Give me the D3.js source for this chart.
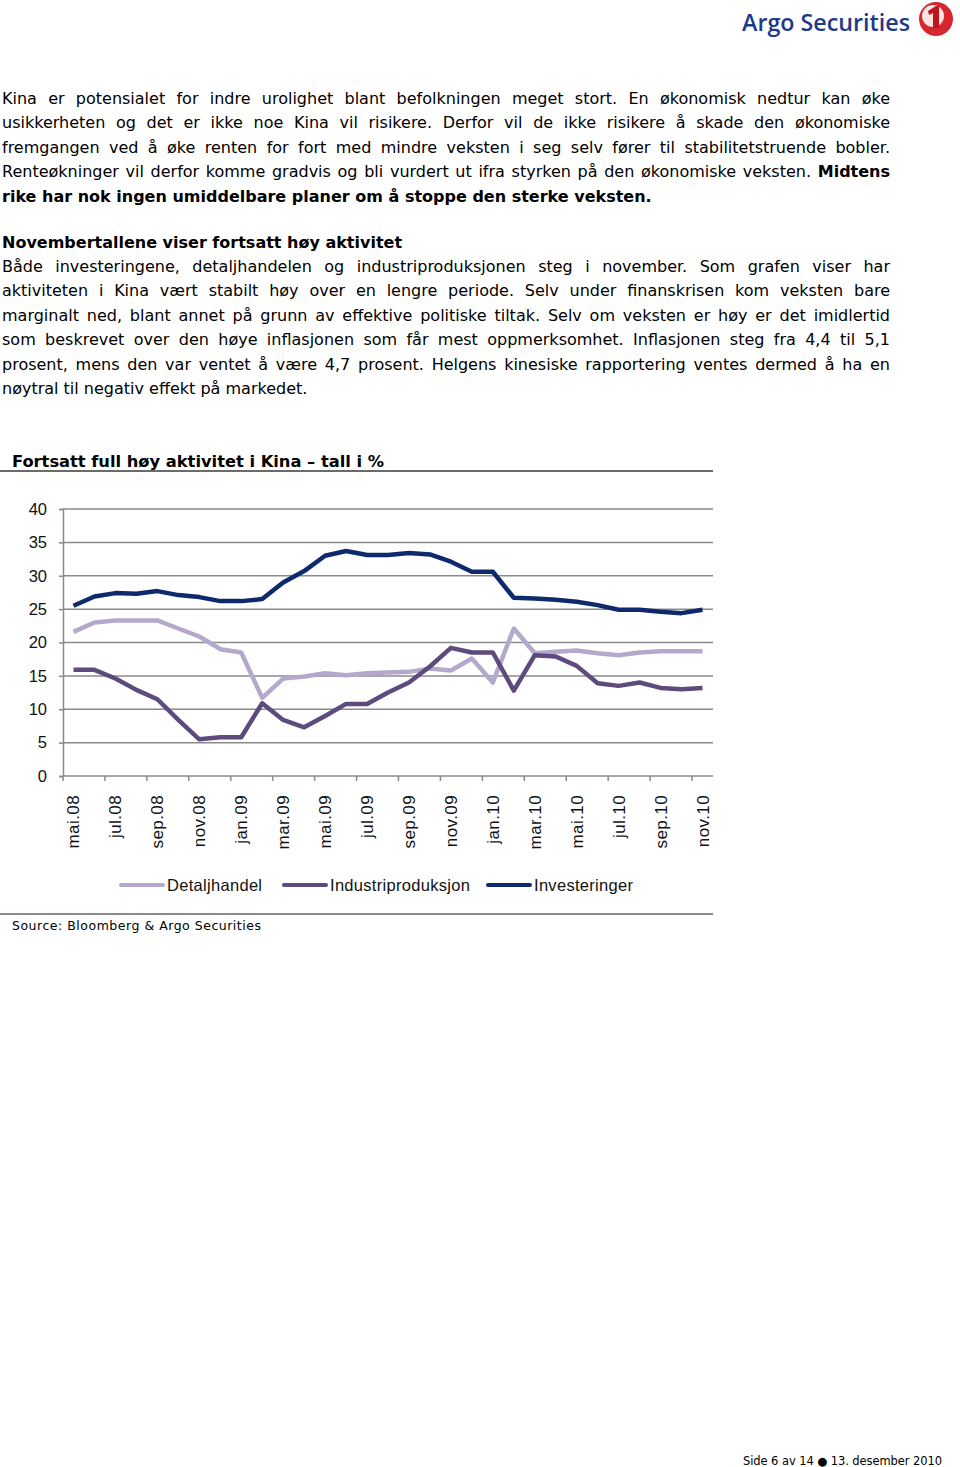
<!DOCTYPE html>
<html>
<head>
<meta charset="utf-8">
<script src="https://cdn.jsdelivr.net/npm/d3@7"></script>
<style>
  body { margin: 0; background: #fff; }
  svg { display: block; }
</style>
</head>
<body>
<div id="page"></div>
<script>
"use strict"

/* chart data */
let months = [
  "mai.08", "jun.08", "jul.08", "aug.08", "sep.08", "okt.08", "nov.08", "des.08",
  "jan.09", "feb.09", "mar.09", "apr.09", "mai.09", "jun.09", "jul.09", "aug.09",
  "sep.09", "okt.09", "nov.09", "des.09", "jan.10", "feb.10", "mar.10", "apr.10",
  "mai.10", "jun.10", "jul.10", "aug.10", "sep.10", "okt.10", "nov.10"
];
let detaljhandel = [21.6, 23.0, 23.3, 23.3, 23.3, 22.1, 20.9, 19.0, 18.5, 11.7, 14.6,
  14.9, 15.4, 15.1, 15.4, 15.5, 15.6, 16.1, 15.8, 17.6, 14.0, 22.1, 18.4, 18.6, 18.8,
  18.4, 18.1, 18.5, 18.7, 18.7, 18.7];
let industriproduksjon = [15.9, 15.9, 14.6, 12.9, 11.5, 8.4, 5.5, 5.8, 5.8, 10.9, 8.4,
  7.3, 9.0, 10.8, 10.8, 12.5, 14.0, 16.4, 19.2, 18.5, 18.5, 12.8, 18.1, 17.9, 16.5,
  13.9, 13.5, 14.0, 13.2, 13.0, 13.2];
let investeringer = [25.5, 26.9, 27.4, 27.3, 27.7, 27.1, 26.8, 26.2, 26.2, 26.5, 29.0,
  30.7, 33.0, 33.7, 33.1, 33.1, 33.4, 33.2, 32.1, 30.6, 30.6, 26.7, 26.6, 26.4, 26.1,
  25.6, 24.9, 24.9, 24.6, 24.4, 24.9];
let seriesNames = ["Detaljhandel", "Industriproduksjon", "Investeringer"];
let seriesColors = ["#b4a8cc", "#5d4b7d", "#0e2a6c"];
let yTicks = [0, 5, 10, 15, 20, 25, 30, 35, 40];

/* page text */
let para1 = [
  [["Kina er potensialet for indre urolighet blant befolkningen meget stort. En økonomisk nedtur kan øke", false]],
  [["usikkerheten og det er ikke noe Kina vil risikere. Derfor vil de ikke risikere å skade den økonomiske", false]],
  [["fremgangen ved å øke renten for fort med mindre veksten i seg selv fører til stabilitetstruende bobler.", false]],
  [["Renteøkninger vil derfor komme gradvis og bli vurdert ut ifra styrken på den økonomiske veksten.", false], ["Midtens", true]],
  [["rike har nok ingen umiddelbare planer om å stoppe den sterke veksten.", true]]
];
let heading2 = "Novembertallene viser fortsatt høy aktivitet";
let para2 = [
  [["Både investeringene, detaljhandelen og industriproduksjonen steg i november. Som grafen viser har", false]],
  [["aktiviteten i Kina vært stabilt høy over en lengre periode. Selv under finanskrisen kom veksten bare", false]],
  [["marginalt ned, blant annet på grunn av effektive politiske tiltak. Selv om veksten er høy er det imidlertid", false]],
  [["som beskrevet over den høye inflasjonen som får mest oppmerksomhet. Inflasjonen steg fra 4,4 til 5,1", false]],
  [["prosent, mens den var ventet å være 4,7 prosent. Helgens kinesiske rapportering ventes dermed å ha en", false]],
  [["nøytral til negativ effekt på markedet.", false]]
];

let drawing = d3.select("#page")
  .append("svg")
  .attr("width", 960)
  .attr("height", 1467);

let bodyFont = "'DejaVu Sans', Verdana, sans-serif";
let chartFont = "'Liberation Sans', Arial, sans-serif";

/* logo */
drawing.append("text")
  .attr("x", 742)
  .attr("y", 31)
  .attr("font-family", "'Open Sans', sans-serif")
  .attr("font-weight", 600)
  .attr("font-size", 23)
  .attr("textLength", 168)
  .attr("lengthAdjust", "spacingAndGlyphs")
  .attr("fill", "#20398a")
  .text("Argo Securities");

drawing.append("circle")
  .attr("cx", 936)
  .attr("cy", 19)
  .attr("r", 17)
  .attr("fill", "#d8262e");
drawing.append("circle")
  .attr("cx", 933)
  .attr("cy", 16)
  .attr("r", 11)
  .attr("fill", "#fbe3e3");
drawing.append("path")
  .attr("d", "M928,11 L936,6 L939,6 L939,28 L933,28 L933,13 L929,15 Z")
  .attr("fill", "#c0141c");

/* body text, laid out word by word so lines can be justified */
let textLeft = 2;
let textRight = 890;

function measure(str, bold) {
  let t = drawing.append("text")
    .attr("font-family", bodyFont)
    .attr("font-size", 16)
    .attr("font-weight", bold ? "bold" : "normal")
    .text(str);
  let w = t.node().getComputedTextLength();
  t.remove();
  return w;
}

let spaceNormal = measure("a a", false) - measure("aa", false);
let spaceBold = measure("a a", true) - measure("aa", true);

function textLine(y, segs, justify) {
  let words = [];
  segs.forEach(s => {
    s[0].split(" ").filter(w => w.length).forEach(w => words.push({ t: w, b: s[1] }));
  });
  let g = drawing.append("g");
  words.forEach(w => {
    w.node = g.append("text")
      .attr("y", y)
      .attr("font-family", bodyFont)
      .attr("font-size", 16)
      .attr("font-weight", w.b ? "bold" : "normal")
      .attr("fill", "#000")
      .text(w.t);
    w.width = w.node.node().getComputedTextLength();
  });
  let total = d3.sum(words, w => w.width);
  let x = textLeft;
  words.forEach((w, i) => {
    w.node.attr("x", x);
    let gap = justify ? (textRight - textLeft - total) / (words.length - 1)
                      : (w.b ? spaceBold : spaceNormal);
    x += w.width + gap;
  });
}

para1.forEach((segs, i) => textLine(103.5 + i * 24.5, segs, i < para1.length - 1));

drawing.append("text")
  .attr("x", textLeft)
  .attr("y", 247.5)
  .attr("font-family", bodyFont)
  .attr("font-size", 16)
  .attr("font-weight", "bold")
  .text(heading2);

para2.forEach((segs, i) => textLine(271.5 + i * 24.5, segs, i < para2.length - 1));

/* chart title */
drawing.append("text")
  .attr("x", 12)
  .attr("y", 467)
  .attr("font-family", "'DejaVu Sans Condensed', 'DejaVu Sans', sans-serif")
  .attr("font-weight", "bold")
  .attr("font-size", 16)
  .attr("textLength", 372)
  .attr("lengthAdjust", "spacingAndGlyphs")
  .text("Fortsatt full høy aktivitet i Kina – tall i %");

drawing.append("line")
  .attr("x1", 0).attr("y1", 471)
  .attr("x2", 713).attr("y2", 471)
  .attr("stroke", "#3a3a3a")
  .attr("stroke-width", 1.5);

/* scales */
let xScale = d3.scaleBand().domain(months).range([63, 713]);
let yScale = d3.scaleLinear().domain([0, 40]).range([776, 509]);
let xMid = d => xScale(d) + xScale.bandwidth() / 2;

/* gridlines */
drawing.append("g")
  .selectAll("line")
  .data(yTicks.filter(v => v > 0))
  .join("line")
  .attr("x1", 63)
  .attr("x2", 713)
  .attr("y1", d => yScale(d))
  .attr("y2", d => yScale(d))
  .attr("stroke", "#8a8a8a")
  .attr("stroke-width", 1.5);

/* y axis */
let yAxis = drawing.append("g")
  .attr("transform", "translate(63,0)")
  .call(d3.axisLeft(yScale).tickValues(yTicks).tickSize(4).tickPadding(12));
yAxis.select(".domain").attr("stroke", "#8a8a8a").attr("stroke-width", 1.5);
yAxis.selectAll(".tick line").attr("stroke", "#8a8a8a").attr("stroke-width", 1.5);
yAxis.selectAll(".tick text")
  .attr("font-family", chartFont)
  .attr("font-size", 16.5)
  .attr("fill", "#111");

/* x axis */
let labelled = months.filter((m, i) => i % 2 === 0);
let xAxis = drawing.append("g")
  .attr("transform", "translate(0,776)");
xAxis.append("line")
  .attr("x1", 63).attr("x2", 713)
  .attr("y1", 0).attr("y2", 0)
  .attr("stroke", "#8a8a8a")
  .attr("stroke-width", 1.5);
xAxis.selectAll(".xtick")
  .data(labelled)
  .join("line")
  .attr("class", "xtick")
  .attr("x1", d => xScale(d))
  .attr("x2", d => xScale(d))
  .attr("y1", 0)
  .attr("y2", 5)
  .attr("stroke", "#8a8a8a")
  .attr("stroke-width", 1.5);
xAxis.selectAll(".xlabel")
  .data(labelled)
  .join("text")
  .attr("class", "xlabel")
  .attr("transform", d => "translate(" + (xMid(d) + 6) + ",19) rotate(-90)")
  .attr("text-anchor", "end")
  .attr("font-family", chartFont)
  .attr("font-size", 17)
  .attr("letter-spacing", 0.4)
  .attr("fill", "#111")
  .text(d => d);

/* lines */
let allSeries = [detaljhandel, industriproduksjon, investeringer];
let lineGen = d3.line()
  .x((d, i) => xMid(months[i]))
  .y(d => yScale(d));

drawing.append("g")
  .selectAll("path")
  .data(allSeries)
  .join("path")
  .attr("d", d => lineGen(d))
  .attr("fill", "none")
  .attr("stroke", (d, i) => seriesColors[i])
  .attr("stroke-width", 4.5)
  .attr("stroke-linejoin", "round");

/* legend */
let legendX = [121, 284, 488];
let legend = drawing.append("g")
  .selectAll("g")
  .data(seriesNames)
  .join("g")
  .attr("transform", (d, i) => "translate(" + legendX[i] + ",885)");
legend.append("line")
  .attr("x1", 0).attr("x2", 42)
  .attr("y1", 0).attr("y2", 0)
  .attr("stroke", (d, i) => seriesColors[i])
  .attr("stroke-width", 4)
  .attr("stroke-linecap", "round");
legend.append("text")
  .attr("x", 46)
  .attr("y", 6)
  .attr("font-family", chartFont)
  .attr("font-size", 16.5)
  .attr("letter-spacing", 0.3)
  .attr("fill", "#111")
  .text(d => d);

/* bottom rule and source */
drawing.append("line")
  .attr("x1", 0).attr("y1", 914)
  .attr("x2", 713).attr("y2", 914)
  .attr("stroke", "#666")
  .attr("stroke-width", 1.5);

drawing.append("text")
  .attr("x", 12)
  .attr("y", 930)
  .attr("font-family", bodyFont)
  .attr("font-size", 12.5)
  .attr("textLength", 249)
  .text("Source: Bloomberg & Argo Securities");

/* page footer */
drawing.append("text")
  .attr("x", 743)
  .attr("y", 1465)
  .attr("font-family", bodyFont)
  .attr("font-size", 11.5)
  .attr("textLength", 199)
  .text("Side 6 av 14 \u25CF 13. desember 2010");
</script>
</body>
</html>
